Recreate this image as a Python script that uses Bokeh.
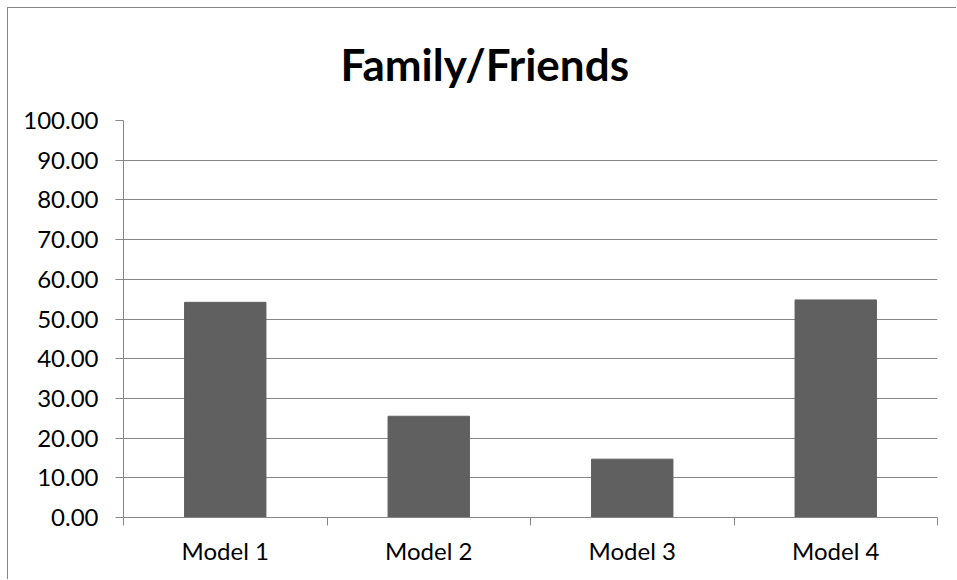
from bokeh.plotting import figure
from bokeh.models import FixedTicker, Range1d, ColumnDataSource, NumeralTickFormatter
from bokeh.embed import file_html
from bokeh.resources import INLINE

title_text = "Family/Friends"
categories = ["Model 1", "Model 2", "Model 3", "Model 4"]
values = [54.2, 25.5, 14.7, 54.8]
y_ticks = [0, 10, 20, 30, 40, 50, 60, 70, 80, 90, 100]

xs = [i + 0.5 for i in range(len(categories))]
src = ColumnDataSource(dict(x=xs, top=values))

p = figure(width=949, height=572, output_backend="svg", toolbar_location=None,
           x_range=Range1d(0, len(categories)), y_range=Range1d(0, 100),
           min_border_left=115, min_border_right=20, min_border_top=112, min_border_bottom=63)
p.margin = (7, 0, 0, 7)

p.vbar(x="x", top="top", width=0.4, bottom=0, source=src, color="#606060")

p.title.text = title_text
p.title.align = "left"
p.title.offset = 217
p.title.vertical_align = "top"
p.title.standoff = 57
p.title.text_font = "Lato"
p.title.text_font_style = "bold"
p.title.text_font_size = "44px"
p.title.text_color = "black"
p.outline_line_color = None

# x axis: labels at centers, ticks between categories
p.xaxis.ticker = FixedTicker(ticks=xs, minor_ticks=list(range(len(categories) + 1)))
p.xaxis.major_label_overrides = {x: c for x, c in zip(xs, categories)}
p.xaxis.major_tick_line_color = None
p.xaxis.minor_tick_in = 0
p.xaxis.minor_tick_out = 8
p.xaxis.minor_tick_line_color = "#868686"
p.xaxis.axis_line_color = "#868686"
p.xaxis.major_label_text_font = "Lato"
p.xaxis.major_label_text_font_size = "24px"
p.xaxis.major_label_text_color = "black"
p.xaxis.major_label_standoff = 10
p.xgrid.grid_line_color = None

p.yaxis.ticker = FixedTicker(ticks=y_ticks, minor_ticks=[])
p.yaxis.formatter = NumeralTickFormatter(format="0.00")
p.yaxis.major_tick_in = 0
p.yaxis.major_tick_out = 8
p.yaxis.major_tick_line_color = "#868686"
p.yaxis.axis_line_color = "#868686"
p.yaxis.major_label_text_font = "Lato"
p.yaxis.major_label_text_font_size = "24px"
p.yaxis.major_label_text_color = "black"
p.yaxis.major_label_standoff = 17
p.ygrid.grid_line_color = "#868686"
p.ygrid.grid_line_width = 1

p.styles = {"border-left": "1px solid #868686", "border-top": "1px solid #868686"}

open("out.html", "w").write(file_html(p, INLINE))
